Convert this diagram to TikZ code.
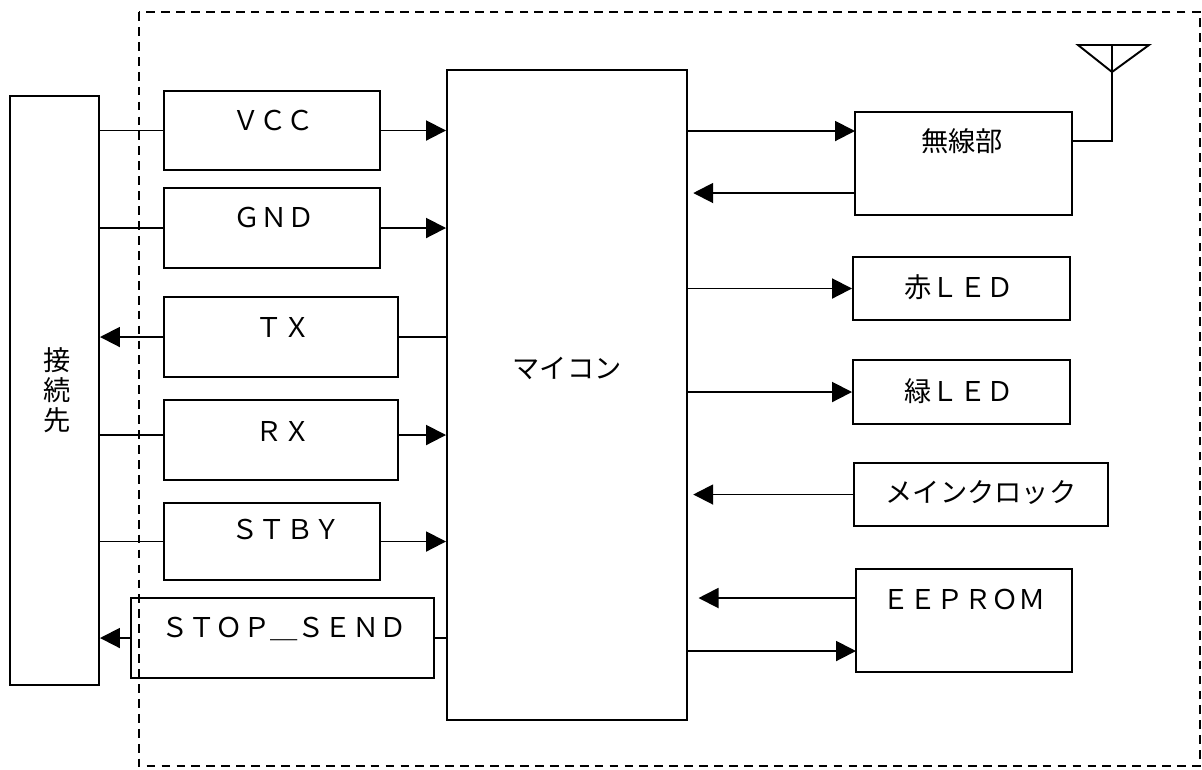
\documentclass[tikz,border=0pt]{standalone}
\usepackage{fontspec}
\setmainfont{Noto Sans CJK JP}
\usetikzlibrary{fit,arrows.meta}
\begin{document}
\begin{tikzpicture}[x=0.02cm,y=-0.02cm,
  box/.style={draw,line width=1.1pt,inner sep=0pt},
  lbl/.style={font=\fontsize{15.5}{18}\selectfont,inner sep=0pt},
  wire/.style={line width=1.1pt},
  arr/.style={line width=1.1pt,-{Triangle[length=0.4cm,width=0.4cm]}}]
\useasboundingbox (0,0) rectangle (1202,769);
% dashed enclosure
\draw[line width=0.8pt,dash pattern=on 5pt off 3.5pt] (139,12) rectangle (1200,766);
% boxes
\node[box,fit={(10,96)(99,685)}] (conn) {};
\node[box,fit={(164,91)(380,170)}] (vcc) {};
\node[box,fit={(164,188)(380,268)}] (gnd) {};
\node[box,fit={(164,297)(398,377)}] (tx) {};
\node[box,fit={(164,400)(398,480)}] (rx) {};
\node[box,fit={(164,503)(380,580)}] (stby) {};
\node[box,fit={(131,598)(434,678)}] (stop) {};
\node[box,fit={(447,70)(687,720)}] (mcu) {};
\node[box,fit={(855,112)(1072,215)}] (radio) {};
\node[box,fit={(853,257)(1070,320)}] (red) {};
\node[box,fit={(853,360)(1070,424)}] (green) {};
\node[box,fit={(854,463)(1108,526)}] (clk) {};
\node[box,fit={(856,569)(1072,672)}] (eep) {};
% labels
\node[lbl,align=center] (connT) at (57,390) {接\\[-1pt]続\\[-1pt]先};
\node[lbl] (vccT) at (273,120) {ＶＣＣ};
\node[lbl] (gndT) at (274,217) {ＧＮＤ};
\node[lbl] (txT) at (283,327) {ＴＸ};
\node[lbl] (rxT) at (283,431) {ＲＸ};
\node[lbl] (stbyT) at (286,529) {ＳＴＢＹ};
\node[lbl] (stopT) at (284,629) {ＳＴＯＰ＿ＳＥＮＤ};
\node[lbl] (mcuT) at (567,368) {マイコン};
\node[lbl] (radioT) at (962,141) {無線部};
\node[lbl] (redT) at (959,287) {赤ＬＥＤ};
\node[lbl] (greenT) at (959,391) {緑ＬＥＤ};
\node[lbl] (clkT) at (981,493) {メインクロック};
\node[lbl] (eepT) at (964,599) {ＥＥＰＲＯＭ};
% left connectors
\draw[wire] (conn.east |- vcc.west) -- (vcc.west);
\draw[arr] (vcc.east) -- (mcu.west |- vcc.east);
\draw[wire] (conn.east |- gnd.west) -- (gnd.west);
\draw[arr] (gnd.east) -- (mcu.west |- gnd.east);
\draw[arr] (tx.west) -- (conn.east |- tx.west);
\draw[wire] (mcu.west |- tx.east) -- (tx.east);
\coordinate (rxw) at (164,435);
\coordinate (rxe) at (398,435);
\draw[wire] (conn.east |- rxw) -- (rxw);
\draw[arr] (rxe) -- (mcu.west |- rxe);
\draw[wire] (conn.east |- stby.west) -- (stby.west);
\draw[arr] (stby.east) -- (mcu.west |- stby.east);
\draw[arr] (stop.west) -- (conn.east |- stop.west);
\draw[wire] (mcu.west |- stop.east) -- (stop.east);
% right connectors
\coordinate (r1) at (855,131);
\coordinate (r2) at (855,193);
\draw[arr] (mcu.east |- r1) -- (r1);
\draw[arr] (r2) -- ([xshift=3]mcu.east |- r2);
\draw[arr] (mcu.east |- red.west) -- (red.west);
\draw[arr] (mcu.east |- green.west) -- (green.west);
\draw[arr] (clk.west) -- ([xshift=3]mcu.east |- clk.west);
\coordinate (e1) at (856,598);
\coordinate (e2) at (856,651);
\draw[arr] (e1) -- ([xshift=6]mcu.east |- e1);
\draw[arr] (mcu.east |- e2) -- (e2);
% antenna
\coordinate (ant) at (1112,72);
\coordinate (antL) at (1078,45);
\coordinate (antR) at (1149,45);
\draw[wire,line join=miter] (radio.east |- 0,141) -| (ant);
\draw[wire] (antL) -- (antR) -- (ant) -- cycle;
\draw[wire] (ant) -- (ant |- antL);
\end{tikzpicture}
\end{document}
